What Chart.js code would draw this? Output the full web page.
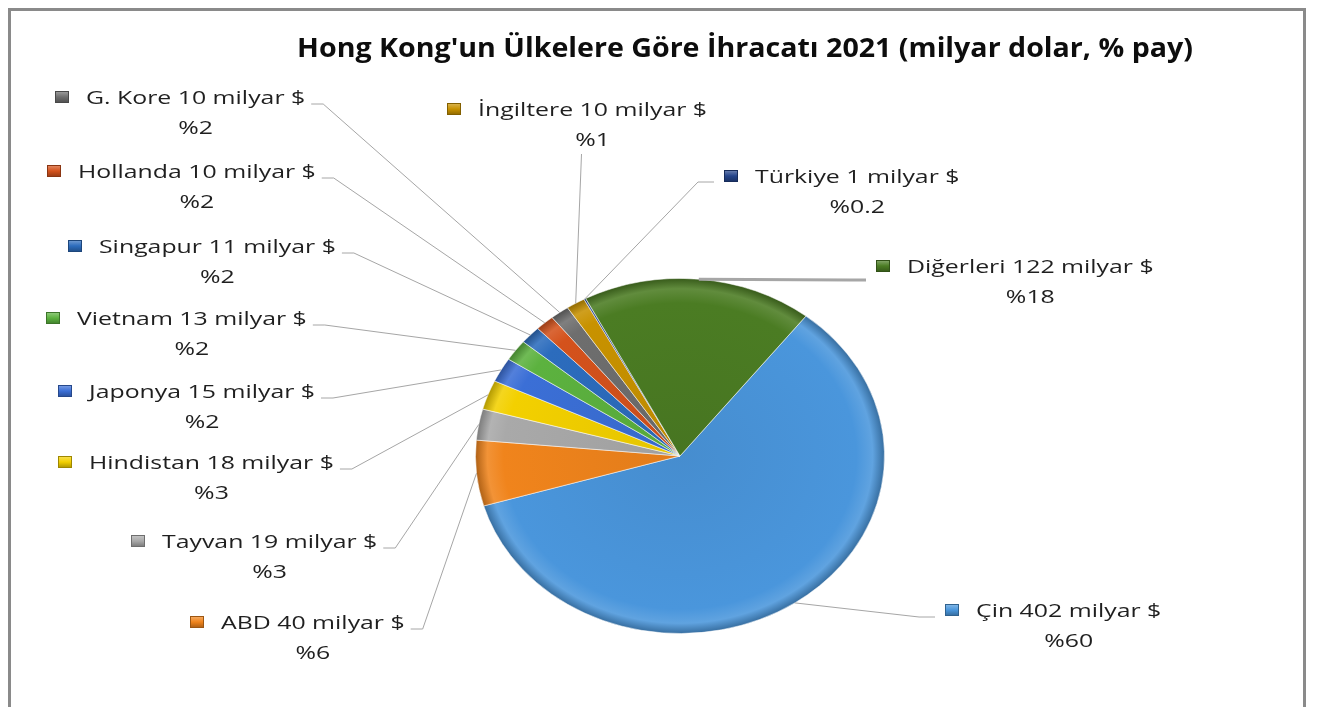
<!DOCTYPE html>
<html>
<head>
<meta charset="utf-8">
<script src="https://cdn.jsdelivr.net/npm/chart.js@4.4.1/dist/chart.umd.min.js"></script>
<style>
    html, body { margin: 0; padding: 0; background: #fff; }
    #wrap { width: 1318px; height: 707px; }
</style>
</head>
<body>
<div id="wrap"><canvas id="exportChart" width="1318" height="707"></canvas></div>
<script>
// Hong Kong exports by country, 2021 (billion $)
const countries = ['Çin', 'ABD', 'Tayvan', 'Hindistan', 'Japonya', 'Vietnam', 'Singapur', 'Hollanda', 'G. Kore', 'İngiltere', 'Türkiye', 'Diğerleri'];
const exportValues = [402, 40, 19, 18, 15, 13, 11, 10, 10, 10, 1, 122];
const shareLabels = ['%60', '%6', '%3', '%3', '%2', '%2', '%2', '%2', '%2', '%1', '%0.2', '%18'];
const sliceColors = ['#4a96dc', '#f0841c', '#a9a9a9', '#f3d000', '#3b6fd6', '#5cb23f', '#2c6cbd', '#d4521c', '#6e6e6e', '#c89200', '#24448a', '#4b7c23'];
const chartTitle = "Hong Kong'un Ülkelere Göre İhracatı 2021 (milyar dolar, % pay)";

// label placement: [marker left x, first line centre y, side the leader leaves from, leader width, leader y offset]
const labelLayout = [
    [945, 610, 'right', 1, 7],
    [190, 622, 'left', 1, 7],
    [131, 541, 'left', 1, 7],
    [58, 462, 'left', 1, 7],
    [58, 391, 'left', 1, 7],
    [46, 318, 'left', 1, 7],
    [68, 246, 'left', 1, 7],
    [47, 171, 'left', 1, 7],
    [55, 97, 'left', 1, 7],
    [447, 109, 'below', 1, 45],
    [724, 176, 'right', 1, 6],
    [876, 266, 'right', 3, 14]
];

const TILT = 0.868;          // pie is seen from an angle
const LABEL_FONT = '18px "Open Sans"';
const LABEL_SX = 1.38;       // the original text is wide
const TITLE_FONT = 'bold 26px "Open Sans"';
const TITLE_SX = 1.1;

function shade(hex, amt) {
    const n = parseInt(hex.slice(1), 16);
    let r = n >> 16, g = (n >> 8) & 255, b = n & 255;
    const t = amt < 0 ? 0 : 255;
    const p = Math.abs(amt);
    r = Math.round(r + (t - r) * p);
    g = Math.round(g + (t - g) * p);
    b = Math.round(b + (t - b) * p);
    return `rgb(${r},${g},${b})`;
}

function wideText(ctx, text, x, y, sx) {
    ctx.save();
    ctx.translate(x, y);
    ctx.scale(sx, 1);
    ctx.fillText(text, 0, 0);
    ctx.restore();
}

const framePlugin = {
    id: 'frame',
    beforeDraw(chart) {
        const ctx = chart.ctx;
        ctx.save();
        ctx.fillStyle = '#fff';
        ctx.fillRect(0, 0, chart.width, chart.height);
        ctx.strokeStyle = '#8a8a8a';
        ctx.lineWidth = 3;
        ctx.strokeRect(9.5, 9.5, 1295, 720);
        ctx.restore();
    }
};

// squash the round pie into an ellipse
const tiltPlugin = {
    id: 'tilt',
    beforeDatasetsDraw(chart) {
        const arc = chart.getDatasetMeta(0).data[0];
        const ctx = chart.ctx;
        ctx.save();
        ctx.translate(arc.x, arc.y);
        ctx.scale(1, TILT);
        ctx.translate(-arc.x, -arc.y);
    },
    afterDatasetsDraw(chart) {
        chart.ctx.restore();
    }
};

const labelPlugin = {
    id: 'sliceLabels',
    afterDraw(chart) {
        const ctx = chart.ctx;
        const arcs = chart.getDatasetMeta(0).data;
        ctx.save();

        // title
        ctx.font = TITLE_FONT;
        ctx.fillStyle = '#0d0d0d';
        ctx.textAlign = 'center';
        ctx.textBaseline = 'middle';
        wideText(ctx, chartTitle, 745, 50, TITLE_SX);

        ctx.font = LABEL_FONT;
        arcs.forEach((arc, i) => {
            const [mx, cy, side, lw, dy] = labelLayout[i];
            const name = `${countries[i]} ${exportValues[i]} milyar $`;
            const textX = mx + 31;
            const w = ctx.measureText(name).width * LABEL_SX;

            // leader line to the middle of the slice edge
            const mid = (arc.startAngle + arc.endAngle) / 2;
            const px = arc.x + Math.cos(mid) * arc.outerRadius;
            const py = arc.y + Math.sin(mid) * arc.outerRadius * TILT;
            let sx0, ex;
            const sy0 = cy + dy;
            if (side === 'left') {
                sx0 = textX + w + 6; ex = sx0 + 12;
            } else if (side === 'right') {
                sx0 = mx - 10; ex = sx0 - 16;
            } else {
                sx0 = textX + w / 2 - 11; ex = sx0;
            }
            ctx.strokeStyle = '#a6a6a6';
            ctx.lineWidth = lw;
            ctx.beginPath();
            ctx.moveTo(sx0, sy0);
            ctx.lineTo(ex, sy0);
            ctx.lineTo(px, py);
            ctx.stroke();

            // little legend key
            const base = sliceColors[i];
            const g = ctx.createLinearGradient(0, cy - 6, 0, cy + 6);
            g.addColorStop(0, shade(base, 0.35));
            g.addColorStop(0.5, base);
            g.addColorStop(1, shade(base, -0.3));
            ctx.fillStyle = g;
            ctx.fillRect(mx, cy - 6, 14, 12);
            ctx.strokeStyle = shade(base, -0.35);
            ctx.lineWidth = 1;
            ctx.strokeRect(mx + 0.5, cy - 5.5, 13, 11);

            // text
            ctx.fillStyle = '#1f1f1f';
            ctx.textAlign = 'left';
            ctx.textBaseline = 'middle';
            wideText(ctx, name, textX, cy + 2, LABEL_SX);
            ctx.textAlign = 'center';
            wideText(ctx, shareLabels[i], textX + w / 2, cy + 32, LABEL_SX);
        });
        ctx.restore();
    }
};

const ctx = document.getElementById('exportChart').getContext('2d');
const exportChart = new Chart(ctx, {
    type: 'pie',
    data: {
        labels: countries,
        datasets: [{
            data: exportValues,
            backgroundColor: (c) => {
                const base = sliceColors[c.dataIndex];
                const area = c.chart.chartArea;
                if (!area) return base;
                const cx = (area.left + area.right) / 2;
                const cy = (area.top + area.bottom) / 2;
                const r = Math.min(area.right - area.left, area.bottom - area.top) / 2;
                const g = c.chart.ctx.createRadialGradient(cx, cy, 0, cx, cy, r);
                g.addColorStop(0, shade(base, -0.06));
                g.addColorStop(0.86, base);
                g.addColorStop(0.94, shade(base, 0.12));
                g.addColorStop(1, shade(base, -0.28));
                return g;
            },
            borderColor: 'rgba(255,255,255,0.55)',
            borderWidth: 1
        }]
    },
    options: {
        responsive: false,
        animation: false,
        devicePixelRatio: 1,
        rotation: 38,
        layout: {
            padding: { left: 475, right: 433, top: 251, bottom: 46 }
        },
        plugins: {
            legend: { display: false },
            tooltip: { enabled: false },
            title: { display: false }
        }
    },
    plugins: [framePlugin, tiltPlugin, labelPlugin]
});
</script>
</body>
</html>
